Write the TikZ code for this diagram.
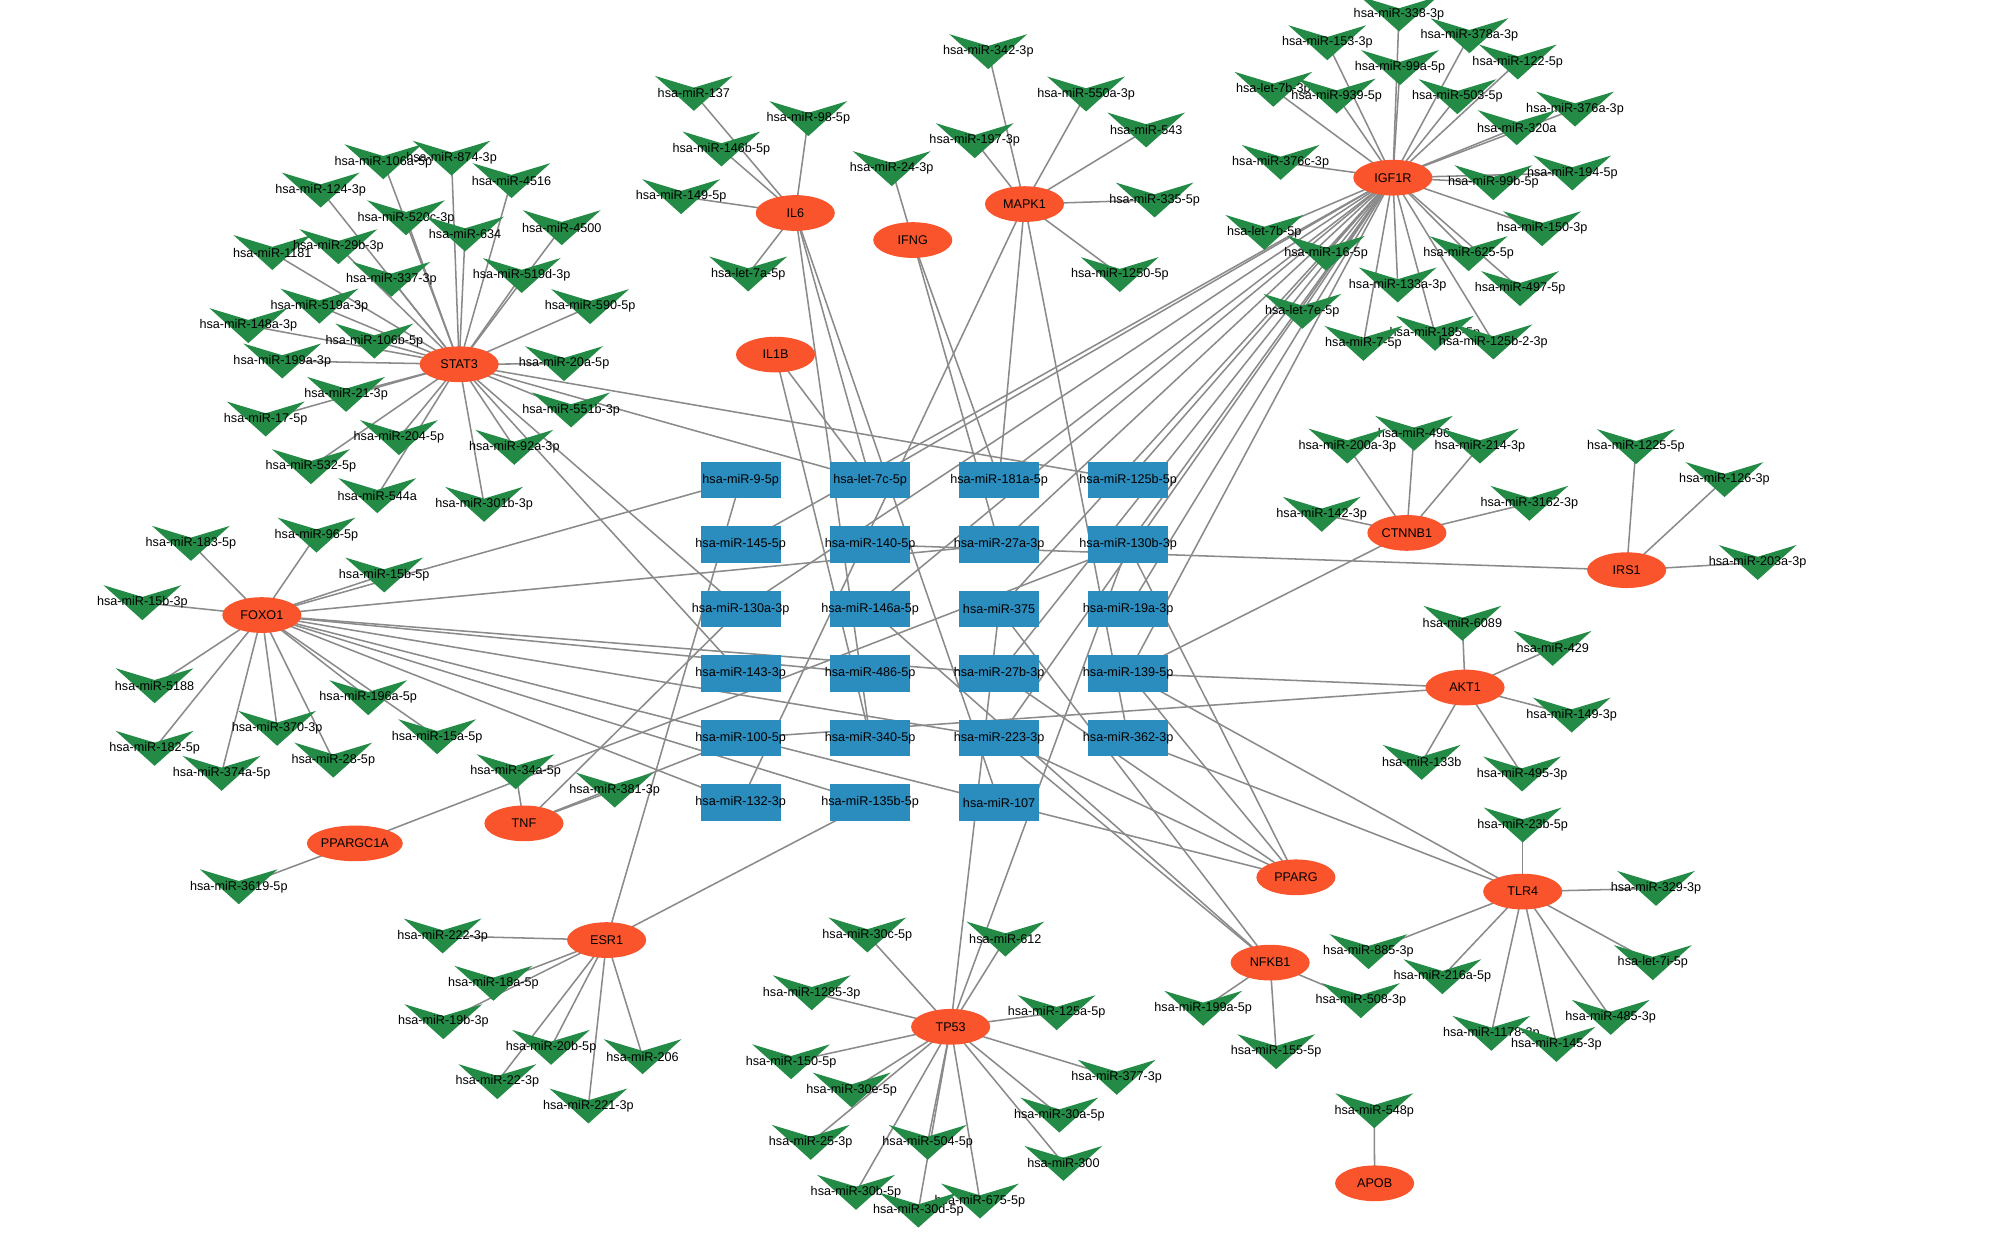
\documentclass[tikz,border=0pt]{standalone}
\usepackage{fontspec}
\setmainfont{Liberation Sans}
\usetikzlibrary{shapes.geometric}
\pgfdeclarelayer{background}
\pgfsetlayers{background,main}
\definecolor{genecol}{RGB}{250,84,44}
\definecolor{mircol}{RGB}{35,139,69}
\definecolor{boxcol}{RGB}{43,140,190}
\definecolor{edgecol}{RGB}{138,138,138}
\newcommand\mirn[4]{%
  \fill[mircol] ({#2-30.5},{#3-13.7}) -- (#2,{#3-4.5}) -- ({#2+30.5},{#3-13.7}) -- (#2,{#3+13.7}) -- cycle;
  \node[lbl] (#1) at (#2,#3) {#4};}
\newcommand\mbx[4]{\node[mbox,label={[lbl]center:#4}] (#1) at (#2,#3) {};}
\begin{document}
\begin{tikzpicture}[x=1pt,y=-1pt,
  lbl/.style={font=\fontsize{9.9}{11}\selectfont, text=black, inner sep=0pt},
  gene/.style={ellipse, fill=genecol, minimum width=62pt, minimum height=28pt, inner sep=0pt, font=\fontsize{9.9}{11}\selectfont},
  mbox/.style={rectangle, fill=boxcol, minimum width=63pt, minimum height=28.6pt, inner sep=0pt},
  lnk/.style={draw=edgecol, line width=1.2pt}]
\path[use as bounding box] (0,0) rectangle (1568,978);

% ---------------- hub genes ----------------
\node[gene] (STAT3) at (360,285.6) {STAT3};
\node[gene] (IL6) at (623.5,167) {IL6};
\node[gene] (IFNG) at (715.6,188.2) {IFNG};
\node[gene] (MAPK1) at (803.2,160) {MAPK1};
\node[gene] (IGF1R) at (1092,139.3) {IGF1R};
\node[gene] (IL1B) at (608,278) {IL1B};
\node[gene] (CTNNB1) at (1103,417.8) {CTNNB1};
\node[gene] (IRS1) at (1275.3,447) {IRS1};
\node[gene] (FOXO1) at (205.3,482.2) {FOXO1};
\node[gene] (AKT1) at (1148.6,539) {AKT1};
\node[gene] (TNF) at (410.8,645.5) {TNF};
\node[gene] (PPARGC1A) at (278.2,661.2) {PPARGC1A};
\node[gene] (PPARG) at (1016,687.8) {PPARG};
\node[gene] (TLR4) at (1193.8,699) {TLR4};
\node[gene] (NFKB1) at (995.8,754.7) {NFKB1};
\node[gene] (ESR1) at (475.6,737) {ESR1};
\node[gene] (TP53) at (745.3,805) {TP53};
\node[gene] (APOB) at (1077.7,927.7) {APOB};

% ---------------- central miRNA grid ----------------
\mbx{x9}{580.7}{376.3}{hsa-miR-9-5p}
\mbx{xlet7c}{682.2}{376.3}{hsa-let-7c-5p}
\mbx{x181a}{783.3}{376.3}{hsa-miR-181a-5p}
\mbx{x125b}{884.5}{376.3}{hsa-miR-125b-5p}
\mbx{x145}{580.7}{427}{hsa-miR-145-5p}
\mbx{x140}{682.2}{427}{hsa-miR-140-5p}
\mbx{x27a}{783.3}{427}{hsa-miR-27a-3p}
\mbx{x130b}{884.5}{427}{hsa-miR-130b-3p}
\mbx{x130a}{580.7}{477.5}{hsa-miR-130a-3p}
\mbx{x146a}{682.2}{477.5}{hsa-miR-146a-5p}
\mbx{x375}{783.3}{477.5}{hsa-miR-375}
\mbx{x19a}{884.5}{477.5}{hsa-miR-19a-3p}
\mbx{x143}{580.7}{528}{hsa-miR-143-3p}
\mbx{x486}{682.2}{528}{hsa-miR-486-5p}
\mbx{x27b}{783.3}{528}{hsa-miR-27b-3p}
\mbx{x139}{884.5}{528}{hsa-miR-139-5p}
\mbx{x100}{580.7}{578.6}{hsa-miR-100-5p}
\mbx{x340}{682.2}{578.6}{hsa-miR-340-5p}
\mbx{x223}{783.3}{578.6}{hsa-miR-223-3p}
\mbx{x362}{884.5}{578.6}{hsa-miR-362-3p}
\mbx{x132}{580.7}{629.3}{hsa-miR-132-3p}
\mbx{x135b}{682.2}{629.3}{hsa-miR-135b-5p}
\mbx{x107}{783.3}{629.3}{hsa-miR-107}

% ---------------- STAT3 targets ----------------
\mirn{s1}{300.5}{126.8}{hsa-miR-106a-5p}
\mirn{s2}{354}{124}{hsa-miR-874-3p}
\mirn{s3}{401}{141.6}{hsa-miR-4516}
\mirn{s4}{251.4}{149}{hsa-miR-124-3p}
\mirn{s5}{318.3}{170.7}{hsa-miR-520c-3p}
\mirn{s6}{364.6}{183.5}{hsa-miR-634}
\mirn{s7}{440.4}{178.5}{hsa-miR-4500}
\mirn{s8}{213.5}{198}{hsa-miR-1181}
\mirn{s9}{265.3}{193.4}{hsa-miR-29b-3p}
\mirn{s10}{306.8}{219}{hsa-miR-337-3p}
\mirn{s11}{409}{216}{hsa-miR-519d-3p}
\mirn{s12}{250.4}{240}{hsa-miR-519a-3p}
\mirn{s13}{462.6}{240.4}{hsa-miR-590-5p}
\mirn{s14}{194.7}{255.3}{hsa-miR-148a-3p}
\mirn{s15}{293.5}{267.4}{hsa-miR-106b-5p}
\mirn{s16}{221.3}{283}{hsa-miR-199a-3p}
\mirn{s17}{442.2}{285.1}{hsa-miR-20a-5p}
\mirn{s18}{271.3}{309.2}{hsa-miR-21-3p}
\mirn{s19}{208.3}{328.5}{hsa-miR-17-5p}
\mirn{s20}{447.7}{321.4}{hsa-miR-551b-3p}
\mirn{s21}{312.8}{343.1}{hsa-miR-204-5p}
\mirn{s22}{403.2}{350.7}{hsa-miR-92a-3p}
\mirn{s23}{243.8}{365.9}{hsa-miR-532-5p}
\mirn{s24}{295.8}{388.6}{hsa-miR-544a}
\mirn{s25}{379.5}{395.4}{hsa-miR-301b-3p}

% ---------------- IL6 / IFNG / MAPK1 targets ----------------
\mirn{i1}{544}{73.2}{hsa-miR-137}
\mirn{i2}{633.7}{93}{hsa-miR-98-5p}
\mirn{i3}{565.6}{116.8}{hsa-miR-146b-5p}
\mirn{i4}{534}{154.2}{hsa-miR-149-5p}
\mirn{i5}{586.6}{214.8}{hsa-let-7a-5p}
\mirn{f1}{699.1}{132.2}{hsa-miR-24-3p}
\mirn{k1}{774.8}{40.5}{hsa-miR-342-3p}
\mirn{k2}{851.5}{73.7}{hsa-miR-550a-3p}
\mirn{k3}{764.2}{110.3}{hsa-miR-197-3p}
\mirn{k4}{898.6}{101.9}{hsa-miR-543}
\mirn{k5}{905.2}{156.8}{hsa-miR-335-5p}
\mirn{k6}{877.9}{215.3}{hsa-miR-1250-5p}

% ---------------- IGF1R targets ----------------
\mirn{g1}{1096.8}{11}{hsa-miR-338-3p}
\mirn{g2}{1152}{28}{hsa-miR-378a-3p}
\mirn{g3}{1040.6}{33.5}{hsa-miR-153-3p}
\mirn{g4}{1097.6}{53}{hsa-miR-99a-5p}
\mirn{g5}{1189.9}{48.6}{hsa-miR-122-5p}
\mirn{g6}{998.3}{70}{hsa-let-7b-3p}
\mirn{g7}{1048}{75.3}{hsa-miR-939-5p}
\mirn{g8}{1142.6}{75.8}{hsa-miR-503-5p}
\mirn{g9}{1234.8}{85.5}{hsa-miR-376a-3p}
\mirn{g10}{1189.1}{100.1}{hsa-miR-320a}
\mirn{g11}{1004}{127.3}{hsa-miR-376c-3p}
\mirn{g12}{1232.7}{135.6}{hsa-miR-194-5p}
\mirn{g13}{1170.8}{143.2}{hsa-miR-99b-5p}
\mirn{g14}{991.2}{182.2}{hsa-let-7b-5p}
\mirn{g15}{1039.6}{198.6}{hsa-miR-16-5p}
\mirn{g16}{1209}{179.3}{hsa-miR-150-3p}
\mirn{g17}{1151.4}{198.9}{hsa-miR-625-5p}
\mirn{g18}{1095.8}{223.4}{hsa-miR-133a-3p}
\mirn{g19}{1191.7}{226.3}{hsa-miR-497-5p}
\mirn{g20}{1021}{244.1}{hsa-let-7e-5p}
\mirn{g21}{1125}{261.3}{hsa-miR-185-5p}
\mirn{g22}{1068.9}{269.2}{hsa-miR-7-5p}
\mirn{g23}{1170.8}{268.1}{hsa-miR-125b-2-3p}

% ---------------- CTNNB1 / IRS1 targets ----------------
\mirn{c3}{1108.6}{339.7}{hsa-miR-496}
\mirn{c1}{1056.3}{349.7}{hsa-miR-200a-3p}
\mirn{c2}{1160.3}{349.7}{hsa-miR-214-3p}
\mirn{c4}{1036.2}{403.2}{hsa-miR-142-3p}
\mirn{c5}{1199}{394.6}{hsa-miR-3162-3p}
\mirn{r1}{1282.6}{350.2}{hsa-miR-1225-5p}
\mirn{r2}{1352}{376}{hsa-miR-126-3p}
\mirn{r3}{1378}{441}{hsa-miR-203a-3p}

% ---------------- FOXO1 / TNF / PPARGC1A targets ----------------
\mirn{o1}{149.7}{426}{hsa-miR-183-5p}
\mirn{o2}{248.1}{419.5}{hsa-miR-96-5p}
\mirn{o3}{301.2}{450.8}{hsa-miR-15b-5p}
\mirn{o4}{111.6}{472.5}{hsa-miR-15b-3p}
\mirn{o5}{121.2}{537.6}{hsa-miR-5188}
\mirn{o6}{288.7}{547}{hsa-miR-196a-5p}
\mirn{o7}{217.3}{571}{hsa-miR-370-3p}
\mirn{o8}{342.7}{577.6}{hsa-miR-15a-5p}
\mirn{o9}{121.2}{586.7}{hsa-miR-182-5p}
\mirn{o10}{261.3}{595.9}{hsa-miR-28-5p}
\mirn{o11}{173.7}{606.3}{hsa-miR-374a-5p}
\mirn{t1}{404.2}{605}{hsa-miR-34a-5p}
\mirn{t2}{481.9}{619.4}{hsa-miR-381-3p}
\mirn{p1}{187.2}{695.2}{hsa-miR-3619-5p}

% ---------------- AKT1 targets ----------------
\mirn{a1}{1146.5}{488.7}{hsa-miR-6089}
\mirn{a2}{1217.3}{508.3}{hsa-miR-429}
\mirn{a3}{1232.2}{560.6}{hsa-miR-149-3p}
\mirn{a4}{1114.6}{597.7}{hsa-miR-133b}
\mirn{a5}{1193.3}{606.8}{hsa-miR-495-3p}

% ---------------- TLR4 / NFKB1 / APOB targets ----------------
\mirn{l1}{1193.8}{646.8}{hsa-miR-23b-5p}
\mirn{l2}{1298.3}{696.5}{hsa-miR-329-3p}
\mirn{l3}{1072.9}{746.1}{hsa-miR-885-3p}
\mirn{l4}{1295.8}{754.7}{hsa-let-7i-5p}
\mirn{l5}{1130.8}{765.7}{hsa-miR-216a-5p}
\mirn{l6}{1262.8}{797.6}{hsa-miR-485-3p}
\mirn{l7}{1169.2}{810.1}{hsa-miR-1178-3p}
\mirn{l8}{1220.2}{818.8}{hsa-miR-145-3p}
\mirn{n1}{943.3}{790.5}{hsa-miR-199a-5p}
\mirn{n2}{1066.9}{784.5}{hsa-miR-508-3p}
\mirn{n3}{1000.5}{824.5}{hsa-miR-155-5p}
\mirn{ap1}{1077.4}{870.8}{hsa-miR-548p}

% ---------------- ESR1 targets ----------------
\mirn{e1}{347}{733.8}{hsa-miR-222-3p}
\mirn{e2}{386.8}{770.9}{hsa-miR-18a-5p}
\mirn{e3}{347.6}{801}{hsa-miR-19b-3p}
\mirn{e4}{432}{821.1}{hsa-miR-20b-5p}
\mirn{e5}{503.8}{828.4}{hsa-miR-206}
\mirn{e6}{389.9}{848}{hsa-miR-22-3p}
\mirn{e7}{461.3}{867.1}{hsa-miR-221-3p}

% ---------------- TP53 targets ----------------
\mirn{q1}{680}{733}{hsa-miR-30c-5p}
\mirn{q2}{788.2}{736.2}{hsa-miR-612}
\mirn{q3}{636.4}{778.3}{hsa-miR-1285-3p}
\mirn{q4}{828.4}{793.9}{hsa-miR-125a-5p}
\mirn{q5}{620.2}{832.4}{hsa-miR-150-5p}
\mirn{q6}{875.5}{844.6}{hsa-miR-377-3p}
\mirn{q7}{667.7}{854.6}{hsa-miR-30e-5p}
\mirn{q8}{830.5}{874.2}{hsa-miR-30a-5p}
\mirn{q9}{635.6}{895.6}{hsa-miR-25-3p}
\mirn{q10}{727.3}{895.6}{hsa-miR-504-5p}
\mirn{q11}{833.7}{912.1}{hsa-miR-300}
\mirn{q12}{671.1}{934.8}{hsa-miR-30b-5p}
\mirn{q13}{768.3}{941.6}{hsa-miR-675-5p}
\mirn{q14}{720}{948.7}{hsa-miR-30d-5p}

% ---------------- connectors (behind the nodes) ----------------
\begin{pgfonlayer}{background}
\fill[white] (0,0) rectangle (1568,978);
\foreach \i in {1,...,25} \draw[lnk] (STAT3.center) -- (s\i.center);
\foreach \i in {1,...,5} \draw[lnk] (IL6.center) -- (i\i.center);
\draw[lnk] (IFNG.center) -- (f1.center);
\foreach \i in {1,...,6} \draw[lnk] (MAPK1.center) -- (k\i.center);
\foreach \i in {1,...,23} \draw[lnk] (IGF1R.center) -- (g\i.center);
\foreach \i in {1,...,5} \draw[lnk] (CTNNB1.center) -- (c\i.center);
\foreach \i in {1,...,3} \draw[lnk] (IRS1.center) -- (r\i.center);
\foreach \i in {1,...,11} \draw[lnk] (FOXO1.center) -- (o\i.center);
\foreach \i in {1,2} \draw[lnk] (TNF.center) -- (t\i.center);
\draw[lnk] (PPARGC1A.center) -- (p1.center);
\foreach \i in {1,...,5} \draw[lnk] (AKT1.center) -- (a\i.center);
\foreach \i in {1,...,8} \draw[lnk] (TLR4.center) -- (l\i.center);
\foreach \i in {1,...,3} \draw[lnk] (NFKB1.center) -- (n\i.center);
\draw[lnk] (APOB.center) -- (ap1.center);
\foreach \i in {1,...,7} \draw[lnk] (ESR1.center) -- (e\i.center);
\foreach \i in {1,...,14} \draw[lnk] (TP53.center) -- (q\i.center);
% gene -- central miRNA
\foreach \m in {xlet7c,x125b,x130a,x143} \draw[lnk] (STAT3.center) -- (\m.center);
\foreach \m in {xlet7c,x340,x107} \draw[lnk] (IL6.center) -- (\m.center);
\foreach \m in {x181a,x27a} \draw[lnk] (IFNG.center) -- (\m.center);
\foreach \m in {x132,x181a,x362} \draw[lnk] (MAPK1.center) -- (\m.center);
\foreach \m in {xlet7c,x145,x181a,x130a,x146a,x27a,x375,x125b,x27b,x223,x130b,x19a,x139} \draw[lnk] (IGF1R.center) -- (\m.center);
\foreach \m in {xlet7c,x340} \draw[lnk] (IL1B.center) -- (\m.center);
\draw[lnk] (IRS1.center) -- (x140.center);
\draw[lnk] (CTNNB1.center) -- (x139.center);
\foreach \m in {x9,x27a,x486,x27b,x223,x107,x132,x135b} \draw[lnk] (FOXO1.center) -- (\m.center);
\foreach \m in {x139,x100} \draw[lnk] (AKT1.center) -- (\m.center);
\foreach \m in {x130a,x100} \draw[lnk] (TNF.center) -- (\m.center);
\draw[lnk] (PPARGC1A.center) -- (x130b.center);
\foreach \m in {x223,x27b,x139,x130b,x107} \draw[lnk] (PPARG.center) -- (\m.center);
\foreach \m in {x139,x362} \draw[lnk] (TLR4.center) -- (\m.center);
\foreach \m in {x146a,x223,x375} \draw[lnk] (NFKB1.center) -- (\m.center);
\foreach \m in {x9,x135b} \draw[lnk] (ESR1.center) -- (\m.center);
\foreach \m in {x375,x130b} \draw[lnk] (TP53.center) -- (\m.center);
\end{pgfonlayer}
\end{tikzpicture}
\end{document}
